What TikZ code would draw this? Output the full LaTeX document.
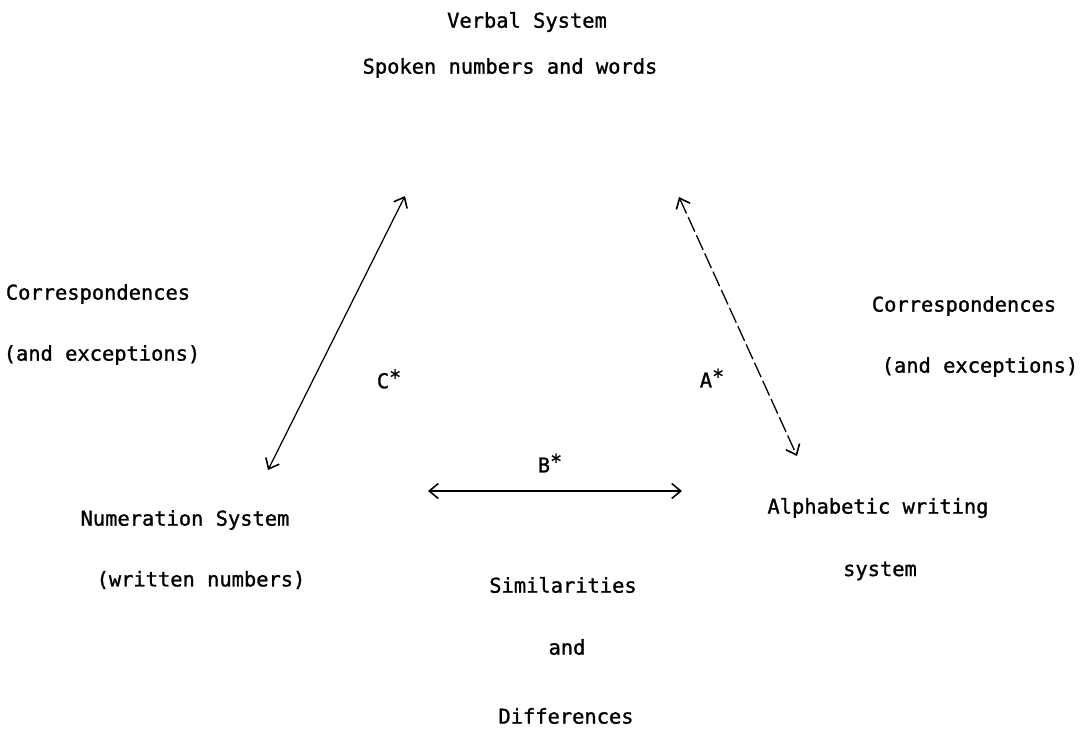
\documentclass[tikz,border=0pt]{standalone}
\usepackage{fontspec}
\setmainfont{DejaVu Sans Mono}[FakeBold=1.2]
\usetikzlibrary{arrows.meta}
\newcommand{\stm}{\raisebox{0.35ex}{\fontsize{20}{20}\selectfont *}}
\begin{document}
\begin{tikzpicture}[x=1pt,y=-1pt,
  lbl/.style={inner sep=0pt,font=\fontsize{20.4}{24}\selectfont},
  conn/.style={line width=1.3pt,{Straight Barb[length=9pt,width=15pt,line width=1.6pt]}-{Straight Barb[length=9pt,width=15pt,line width=1.6pt]}}]
\useasboundingbox (0,0) rectangle (1085,750);
% texts
\node[lbl] (vs) at (527,22) {Verbal System};
\node[lbl] (sp) at (510,68) {Spoken numbers and words};
\node[lbl] (cl1) at (98,294) {Correspondences};
\node[lbl] (cl2) at (102,355) {(and exceptions)};
\node[lbl] (cr1) at (964,306) {Correspondences};
\node[lbl] (cr2) at (980,367) {(and exceptions)};
\node[lbl] (cs) at (389,379) {C\stm};
\node[lbl] (as) at (712,378) {A\stm};
\node[lbl] (bs) at (550,463) {B\stm};
\node[lbl] (ns) at (185,520) {Numeration System};
\node[lbl] (wn) at (201,580) {(written numbers)};
\node[lbl] (aw) at (878,508) {Alphabetic writing};
\node[lbl] (sy) at (880,571) {system};
\node[lbl] (si) at (563,585) {Similarities};
\node[lbl] (an) at (567,647) {and};
\node[lbl] (df) at (566,716) {Differences};
% arrow end points
\coordinate (cT) at (405,196);
\coordinate (cB) at (268,470);
\coordinate (aT) at (679,197);
\coordinate (aB) at (797,456);
\coordinate (bL) at (428,491);
\coordinate (bR) at (682,491);
\draw[conn] (cT) -- (cB);
\draw[conn,dash pattern=on 16pt off 4pt] (aT) -- (aB);
\draw[conn] (bL) -- (bR);
\end{tikzpicture}
\end{document}
